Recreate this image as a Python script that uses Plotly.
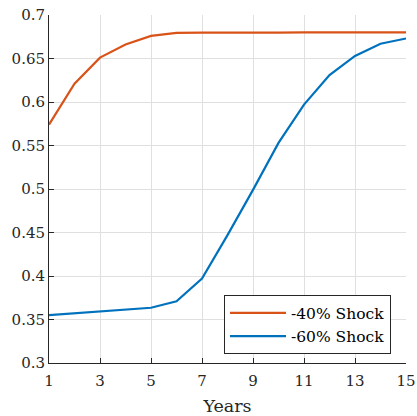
import plotly.graph_objects as go

years = list(range(1, 16))
shock40 = [0.574, 0.621, 0.651, 0.666, 0.676, 0.6795, 0.6797, 0.680, 0.680, 0.6798, 0.680, 0.6798, 0.6795, 0.680, 0.680]
shock60 = [0.355, 0.357, 0.359, 0.361, 0.3635, 0.371, 0.397, 0.447, 0.499, 0.553, 0.597, 0.631, 0.653, 0.667, 0.673]
xticks = [1, 3, 5, 7, 9, 11, 13, 15]
yticks = [0.3, 0.35, 0.4, 0.45, 0.5, 0.55, 0.6, 0.65, 0.7]
yticklabels = ["0.3", "0.35", "0.4", "0.45", "0.5", "0.55", "0.6", "0.65", "0.7"]

font = "DejaVu Serif"
fig = go.Figure()
fig.add_trace(go.Scatter(x=years, y=shock40, mode="lines", name="-40% Shock",
                         line=dict(color="#D95319", width=2.2)))
fig.add_trace(go.Scatter(x=years, y=shock60, mode="lines", name="-60% Shock",
                         line=dict(color="#0072BD", width=2.2)))

fig.update_layout(
    width=417, height=416,
    margin=dict(l=49, r=11, t=15, b=53),
    paper_bgcolor="white", plot_bgcolor="white",
    font=dict(family=font, size=15, color="#262626"),
    showlegend=True,
    legend=dict(x=0.958, y=0.025, xanchor="right", yanchor="bottom",
                bordercolor="#262626", borderwidth=1, bgcolor="white",
                font=dict(family=font, size=15.5, color="#000"),
                tracegroupgap=0, itemwidth=56),
    xaxis=dict(range=[1, 15], tickvals=xticks, ticks="inside", ticklen=5,
               tickcolor="#262626", showline=True, linecolor="#262626", linewidth=1,
               showgrid=True, gridcolor="#e0e0e0", gridwidth=1, zeroline=False,
               automargin=False, ticklabelstandoff=4,
               title=dict(text="Years", font=dict(size=17.5), standoff=13),
               tickfont=dict(size=15)),
    yaxis=dict(range=[0.3, 0.7], tickvals=yticks, ticktext=yticklabels, ticks="inside",
               ticklen=5, tickcolor="#262626", showline=True, linecolor="#262626",
               linewidth=1, showgrid=True, gridcolor="#e0e0e0", gridwidth=1,
               automargin=False, zeroline=False, tickfont=dict(size=15)),
)
fig.write_html("out.html")
